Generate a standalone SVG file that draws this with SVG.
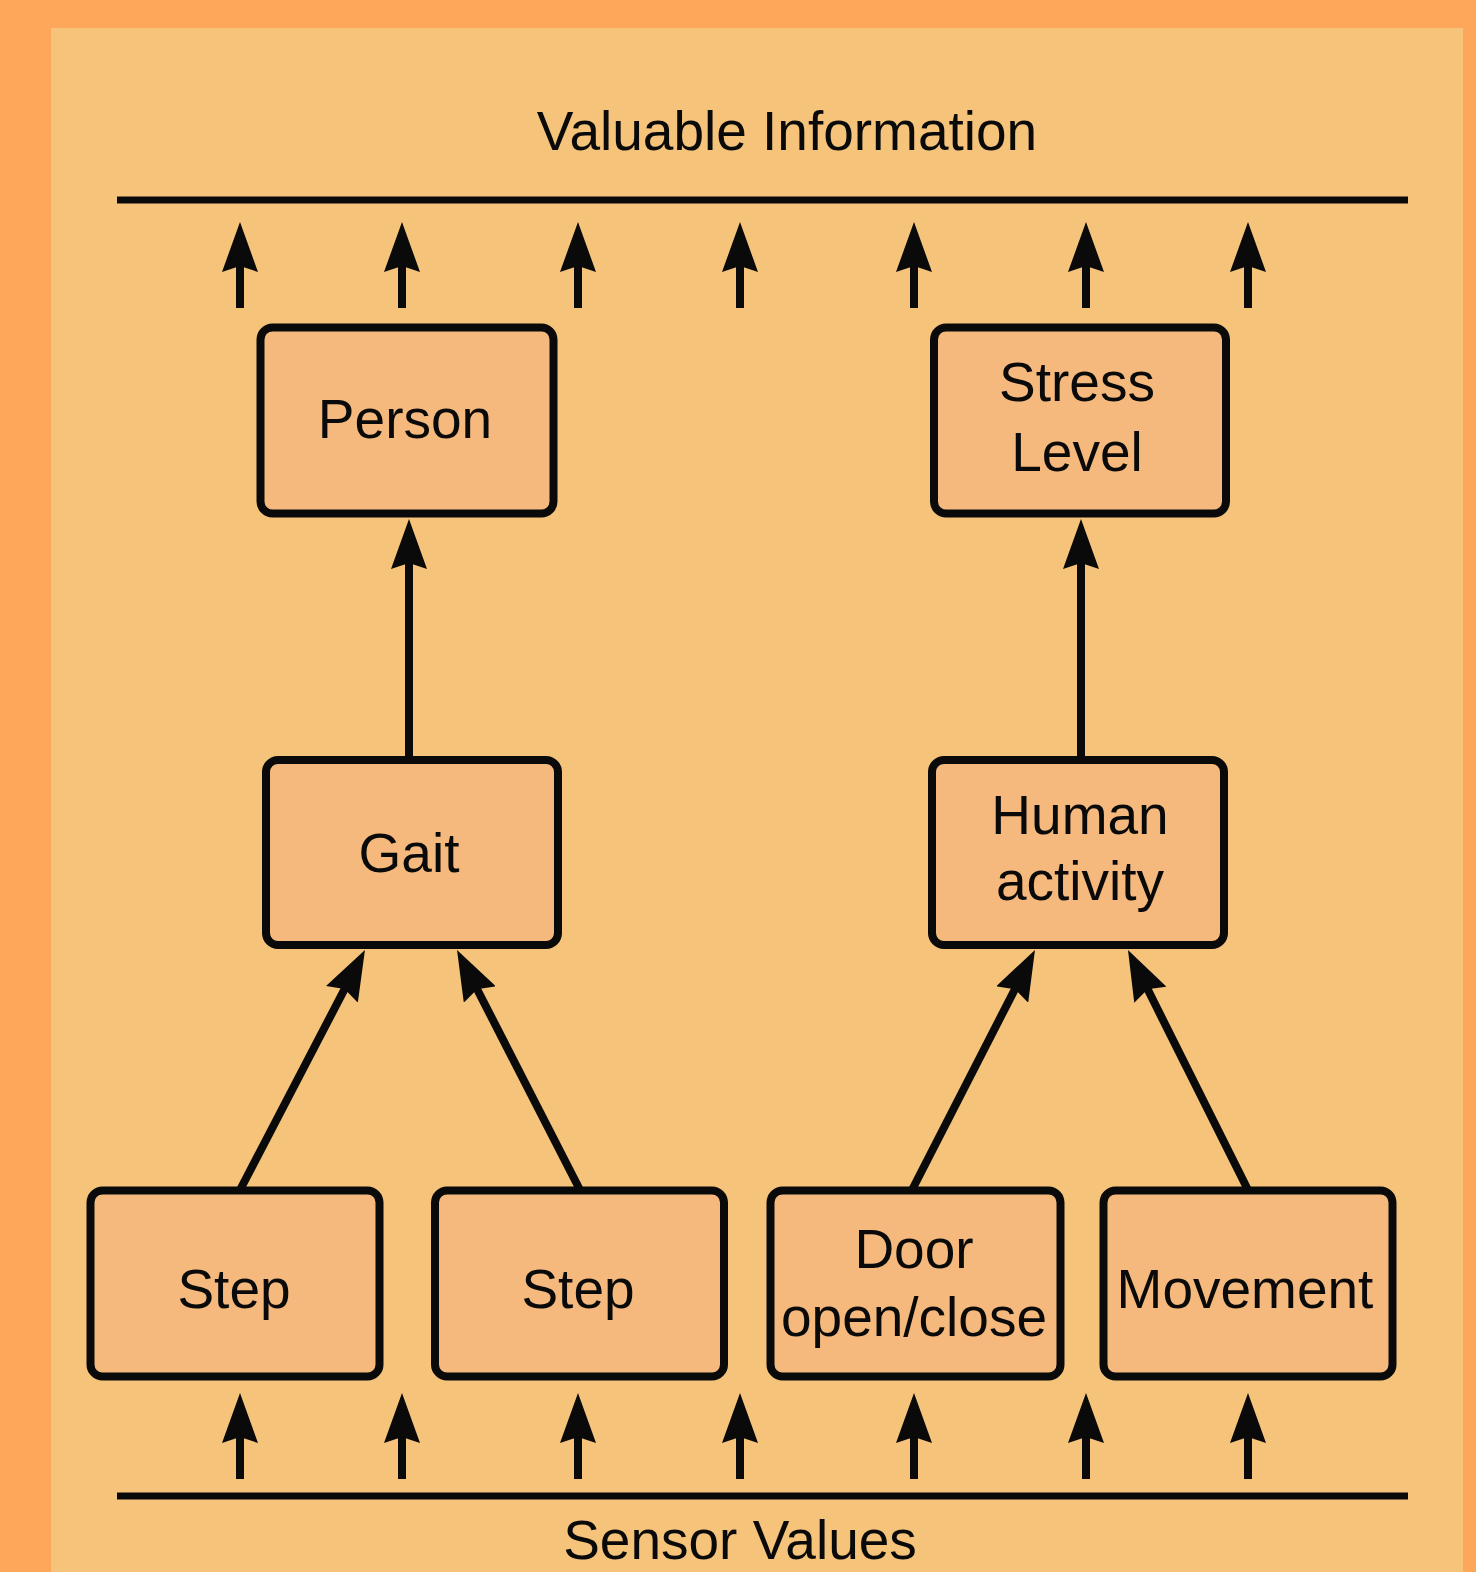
<svg xmlns="http://www.w3.org/2000/svg" width="1476" height="1572" viewBox="0 0 1476 1572">
<style>
.box{fill:#F5B97D;stroke:#0a0a0a;stroke-width:8}
.lbl{font-family:"Liberation Sans",Arial,sans-serif;font-size:55px;fill:#0a0a0a;text-anchor:middle}
.ar{stroke:#0a0a0a;stroke-width:8;fill:none;marker-end:url(#ah)}
.bar{stroke:#0a0a0a;stroke-width:7}
</style>
<defs>
<marker id="ah" viewBox="0 0 50 36" refX="20" refY="18" markerWidth="50" markerHeight="36" markerUnits="userSpaceOnUse" orient="auto">
<path d="M0,0 L50,18 L0,36 L6,18 z" fill="#0a0a0a"/>
</marker>
</defs>
<rect x="0" y="0" width="1476" height="1572" fill="#FDA75B"/>
<rect x="51" y="28" width="1412" height="1544" fill="#F6C37B"/>
<text class="lbl" x="787" y="150">Valuable Information</text>
<text class="lbl" x="740" y="1559">Sensor Values</text>
<g id="connectors">
<line class="bar" x1="117" y1="200" x2="1408" y2="200"/>
<line class="bar" x1="117" y1="1496" x2="1408" y2="1496"/>
<line class="ar" x1="240" y1="308" x2="240" y2="252"/>
<line class="ar" x1="402" y1="308" x2="402" y2="252"/>
<line class="ar" x1="578" y1="308" x2="578" y2="252"/>
<line class="ar" x1="740" y1="308" x2="740" y2="252"/>
<line class="ar" x1="914" y1="308" x2="914" y2="252"/>
<line class="ar" x1="1086" y1="308" x2="1086" y2="252"/>
<line class="ar" x1="1248" y1="308" x2="1248" y2="252"/>
<line class="ar" x1="240" y1="1479" x2="240" y2="1423"/>
<line class="ar" x1="402" y1="1479" x2="402" y2="1423"/>
<line class="ar" x1="578" y1="1479" x2="578" y2="1423"/>
<line class="ar" x1="740" y1="1479" x2="740" y2="1423"/>
<line class="ar" x1="914" y1="1479" x2="914" y2="1423"/>
<line class="ar" x1="1086" y1="1479" x2="1086" y2="1423"/>
<line class="ar" x1="1248" y1="1479" x2="1248" y2="1423"/>
<line class="ar" x1="409" y1="757" x2="409" y2="549"/>
<line class="ar" x1="1081" y1="757" x2="1081" y2="549"/>
<line class="ar" x1="240" y1="1190" x2="351.1" y2="976.6"/>
<line class="ar" x1="580" y1="1190" x2="470.7" y2="976.7"/>
<line class="ar" x1="912" y1="1190" x2="1021.3" y2="976.7"/>
<line class="ar" x1="1248" y1="1190" x2="1141.4" y2="976.8"/>
</g>
<g id="person"><rect class="box" x="260.5" y="327.5" width="293" height="186" rx="12"/><text class="lbl" x="405" y="438">Person</text></g>
<g id="stress"><rect class="box" x="934" y="327.5" width="292" height="186" rx="12"/><text class="lbl" x="1077" y="401">Stress</text><text class="lbl" x="1077" y="471">Level</text></g>
<g id="gait"><rect class="box" x="266" y="760" width="292" height="185" rx="12"/><text class="lbl" x="409" y="872">Gait</text></g>
<g id="human"><rect class="box" x="932" y="760" width="292" height="185" rx="12"/><text class="lbl" x="1080" y="834">Human</text><text class="lbl" x="1080" y="900">activity</text></g>
<g id="step1"><rect class="box" x="90.5" y="1190.5" width="289" height="186" rx="12"/><text class="lbl" x="234" y="1308">Step</text></g>
<g id="step2"><rect class="box" x="435" y="1190.5" width="289" height="186" rx="12"/><text class="lbl" x="578" y="1308">Step</text></g>
<g id="door"><rect class="box" x="770.5" y="1190.5" width="290" height="186" rx="12"/><text class="lbl" x="914" y="1268">Door</text><text class="lbl" x="914" y="1336">open/close</text></g>
<g id="movement"><rect class="box" x="1103.5" y="1190.5" width="289" height="186" rx="12"/><text class="lbl" x="1245" y="1308">Movement</text></g>
</svg>
